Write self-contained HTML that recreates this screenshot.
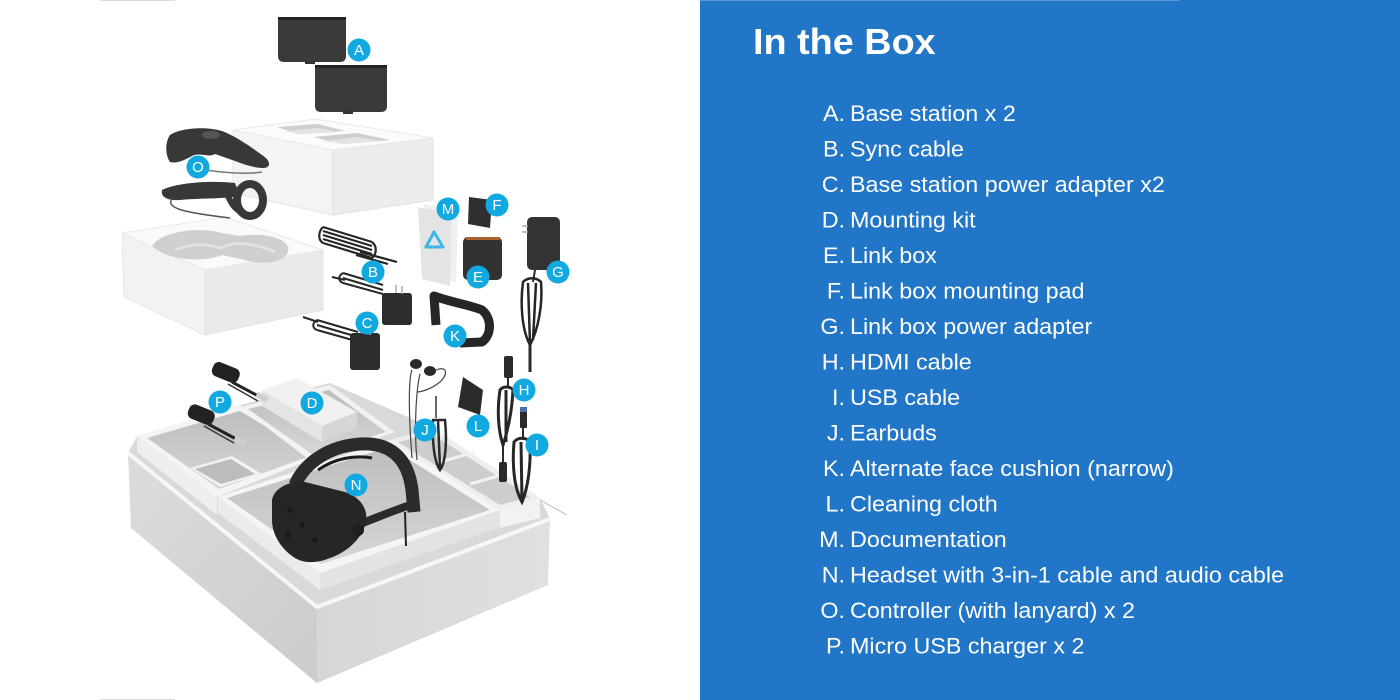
<!DOCTYPE html>
<html><head><meta charset="utf-8"><style>
html,body{margin:0;padding:0;background:#fff;}
svg{display:block;}
</style></head><body>
<svg width="1400" height="700" viewBox="0 0 1400 700" xmlns="http://www.w3.org/2000/svg">
<defs>
<linearGradient id="lf" x1="0" y1="0" x2="1" y2="1"><stop offset="0" stop-color="#dcdcdc"/><stop offset="1" stop-color="#cbcbcb"/></linearGradient>
<linearGradient id="rf" x1="0" y1="0" x2="1" y2="0"><stop offset="0" stop-color="#d6d6d6"/><stop offset="1" stop-color="#e0e0e0"/></linearGradient>
<linearGradient id="tin" x1="0" y1="0" x2="0" y2="1"><stop offset="0" stop-color="#bdbdbd"/><stop offset="1" stop-color="#d6d6d6"/></linearGradient>
</defs>
<rect x="0" y="0" width="700" height="700" fill="#ffffff"/>
<rect x="100" y="0" width="75" height="1" fill="#dddddd"/>
<rect x="100" y="699" width="75" height="1" fill="#dddddd"/>

<!-- ===== Bottom big box ===== -->
<polygon points="128,453 317,607 317,683 131,528" fill="url(#lf)"/>
<polygon points="317,607 550,519 548,585 317,683" fill="url(#rf)"/>
<polygon points="128,453 137,436 240,405 330,383 433,428 540,498 550,519 317,607" fill="#d9d9d9"/>
<polyline points="128,453 317,607 550,519" fill="none" stroke="#f7f7f7" stroke-width="4"/>
<!-- P tray -->
<polygon points="137,436 217,497 217,515 137,452" fill="#eeeeee"/>
<polygon points="137,436 240,405 322,455 217,497" fill="#f4f4f4"/>
<polygon points="147,438 240,411 313,455 219,489" fill="url(#tin)"/>
<polygon points="190,468 232,456 262,474 220,487" fill="#f2f2f2"/>
<polygon points="195,469 231,459 255,474 221,484" fill="#bcbcbc"/>
<!-- D tray -->
<polygon points="240,407 330,385 395,432 312,462" fill="#f2f2f2"/>
<polygon points="248,409 329,390 386,432 313,455" fill="url(#tin)"/>
<!-- right tray -->
<polygon points="390,440 433,428 540,498 500,510" fill="#eeeeee"/>
<polygon points="398,442 432,434 530,497 500,505" fill="#cdcdcd"/>
<line x1="440" y1="462" x2="475" y2="452" stroke="#f2f2f2" stroke-width="3"/>
<line x1="470" y1="484" x2="505" y2="474" stroke="#f2f2f2" stroke-width="3"/>
<polygon points="500,510 540,498 540,518 500,528" fill="#f2f2f2"/>
<line x1="540" y1="500" x2="567" y2="515" stroke="#bbbbbb" stroke-width="1"/>
<!-- N tray -->
<polygon points="218,497 320,573 320,590 218,513" fill="#ebebeb"/>
<polygon points="320,573 500,510 500,527 320,590" fill="#e3e3e3"/>
<polygon points="218,497 390,440 500,510 320,573" fill="#f5f5f5"/>
<polygon points="227,498 389,447 490,510 321,564" fill="url(#tin)"/>

<!-- D box -->
<polygon points="262,390 322,426 322,442 262,406" fill="#e4e4e4"/>
<polygon points="322,426 357,412 357,428 322,442" fill="#d6d6d6"/>
<polygon points="262,390 297,378 357,412 322,426" fill="#f1f1f1"/>

<!-- P chargers -->
<rect x="212" y="365" width="28" height="15" rx="6" fill="#222" transform="rotate(22 226 372)"/>
<path d="M232,382 L262,398" stroke="#222" stroke-width="3" fill="none"/>
<path d="M228,384 L258,401" stroke="#333" stroke-width="1.5" fill="none"/>
<rect x="256" y="394" width="12" height="6" fill="#cfcfcf" transform="rotate(25 262 397)"/>
<rect x="188" y="407" width="27" height="15" rx="6" fill="#222" transform="rotate(22 201 414)"/>
<path d="M208,424 L238,440" stroke="#222" stroke-width="3" fill="none"/>
<path d="M204,426 L234,443" stroke="#333" stroke-width="1.5" fill="none"/>
<rect x="234" y="438" width="12" height="6" fill="#cfcfcf" transform="rotate(25 240 441)"/>

<!-- Headset -->
<path d="M295,485 C305,462 330,446 360,444 C390,442 408,458 412,490 L414,512" stroke="#2b2b2b" stroke-width="13" fill="none"/>
<path d="M318,470 C335,458 355,455 372,458" stroke="#1c1c1c" stroke-width="3" fill="none"/>
<path d="M350,528 C370,520 390,512 410,505" stroke="#2b2b2b" stroke-width="8" fill="none"/>
<path d="M405,512 L406,546" stroke="#222" stroke-width="2" fill="none"/>
<path d="M272,500 C274,488 290,480 305,482 L345,492 C362,498 368,510 366,522 C362,540 345,553 330,558 C318,563 305,564 295,558 C282,550 272,535 272,520 Z" fill="#262626"/>
<circle cx="290" cy="510" r="3" fill="#1a1a1a"/><circle cx="302" cy="525" r="3" fill="#1a1a1a"/><circle cx="288" cy="535" r="3" fill="#1a1a1a"/><circle cx="315" cy="540" r="3" fill="#1a1a1a"/>
<circle cx="358" cy="530" r="6" fill="#1e1e1e"/>

<!-- J earbuds -->
<ellipse cx="416" cy="364" rx="6" ry="5" fill="#2a2a2a"/>
<ellipse cx="430" cy="371" rx="6" ry="5" fill="#2a2a2a"/>
<path d="M412,370 C408,380 409,420 412,458 M420,374 C416,390 414,430 417,460 M436,370 C445,366 450,372 440,382 C430,390 420,392 417,392" stroke="#444" stroke-width="1.2" fill="none"/>
<path d="M436,396 L436,418" stroke="#333" stroke-width="1.5"/>
<path d="M433,420 C432,440 434,462 440,470 C446,462 447,440 445,420 Z M438,420 L440,468" stroke="#2a2a2a" stroke-width="2.5" fill="none"/>
<!-- L cloth -->
<polygon points="463,377 483,390 480,415 458,407" fill="#2b2b2b"/>
<!-- H cable -->
<rect x="504" y="356" width="9" height="22" rx="2" fill="#2a2a2a"/>
<path d="M508,378 L508,388" stroke="#2a2a2a" stroke-width="2"/>
<path d="M500,390 C497,410 498,430 503,445 C508,430 512,410 513,390 C510,386 503,386 500,390 Z M506,390 L506,442" stroke="#262626" stroke-width="3" fill="none"/>
<path d="M503,445 L503,463" stroke="#2a2a2a" stroke-width="2"/>
<rect x="499" y="462" width="8" height="20" rx="2" fill="#2a2a2a"/>
<!-- I cable -->
<rect x="520" y="410" width="7" height="18" rx="1" fill="#2a2a2a"/>
<rect x="520" y="407" width="7" height="5" fill="#4d6fa8"/>
<path d="M523,428 L523,440" stroke="#2a2a2a" stroke-width="2"/>
<path d="M514,442 C512,465 514,488 522,502 C528,488 531,465 530,442 C526,437 518,437 514,442 Z M521,442 L522,500" stroke="#262626" stroke-width="3" fill="none"/>

<!-- ===== Upper items ===== -->
<!-- Base stations -->
<path d="M278,17 L346,17 L346,56 Q346,62 340,62 L284,62 Q278,62 278,56 Z" fill="#3a3a3a"/>
<rect x="278" y="17" width="68" height="3" fill="#222"/>
<rect x="305" y="61" width="10" height="3" fill="#333"/>
<path d="M315,65 L387,65 L387,106 Q387,112 381,112 L321,112 Q315,112 315,106 Z" fill="#3a3a3a"/>
<rect x="315" y="65" width="72" height="3" fill="#222"/>
<rect x="343" y="111" width="10" height="3" fill="#333"/>

<!-- Upper white box -->
<polygon points="233,130 333,150 333,215 233,193" fill="#f4f4f4" stroke="#e6e6e6" stroke-width="1"/>
<polygon points="333,150 433,138 433,200 333,215" fill="#ececec" stroke="#e2e2e2" stroke-width="1"/>
<polygon points="233,130 315,119 433,138 333,150" fill="#fbfbfb" stroke="#e8e8e8" stroke-width="1"/>
<polygon points="277,127 318,124 345,131 298,134" fill="#cfcfcf"/>
<polygon points="285,131 318,128 338,132 300,134" fill="#e3e3e3"/>
<polygon points="313,137 357,133 390,140 343,144" fill="#cfcfcf"/>
<polygon points="322,141 357,137 382,141 345,144" fill="#e3e3e3"/>

<!-- Lower-left white box -->
<polygon points="122,233 205,270 205,335 124,297" fill="#f2f2f2" stroke="#e6e6e6" stroke-width="1"/>
<polygon points="205,270 323,250 323,310 205,335" fill="#eaeaea" stroke="#e2e2e2" stroke-width="1"/>
<polygon points="122,233 225,217 323,250 205,270" fill="#fafafa" stroke="#e8e8e8" stroke-width="1"/>
<path d="M152,246 C160,232 198,226 222,233 L240,236 C262,232 292,238 288,252 C285,262 262,266 245,260 L222,255 C205,262 170,262 152,246 Z" fill="#cfcfcf"/>
<path d="M175,250 C190,244 205,243 220,248 L232,244 C245,242 262,246 275,252" stroke="#e2e2e2" stroke-width="3" fill="none"/>

<!-- Controller 1 -->
<path d="M170,135 C180,128 205,126 222,131 C235,136 250,146 262,155 C270,160 272,167 264,168 C255,168 245,165 235,161 L215,154 C208,158 200,152 192,156 C185,160 176,164 170,162 C165,155 165,142 170,135 Z" fill="#383838"/>
<ellipse cx="211" cy="135" rx="9" ry="4" fill="#555"/>
<path d="M205,170 C220,172 245,175 262,172" stroke="#777" stroke-width="1.5" fill="none"/>
<!-- Controller 2 -->
<path d="M162,190 C175,183 210,180 235,183 L240,196 C225,199 200,198 180,200 C170,201 160,198 162,190 Z" fill="#383838"/>
<ellipse cx="250" cy="200" rx="13" ry="16" stroke="#383838" stroke-width="8" fill="none"/>
<path d="M228,196 C232,205 236,210 242,212" stroke="#383838" stroke-width="6" fill="none"/>
<path d="M172,198 C166,208 180,212 230,218" stroke="#555" stroke-width="1.5" fill="none"/>

<!-- B sync cable coil -->
<g stroke="#262626" stroke-width="2.2" fill="none">
<path d="M323,227 L372,242 M323,231 L372,246 M323,235 L372,250 M323,239 L372,254 M323,243 L372,258"/>
<path d="M323,227 C318,232 318,240 323,243 M372,242 C377,246 377,254 372,258"/>
<path d="M360,252 L397,262 M356,255 L388,264"/>
</g>
<!-- B-side adapter -->
<g stroke="#262626" stroke-width="2" fill="none">
<path d="M332,277 L345,280 M343,273 L383,285 M343,278 L383,290 M343,283 L383,294 M343,273 C338,276 338,281 343,283"/>
</g>
<rect x="382" y="293" width="30" height="32" rx="3" fill="#2c2c2c"/>
<path d="M396,285 L396,293 M402,286 L402,294" stroke="#aaa" stroke-width="1.5"/>
<!-- C adapter -->
<g stroke="#262626" stroke-width="2" fill="none">
<path d="M303,317 L318,322 M317,320 L358,332 M317,325 L358,337 M317,330 L356,341 M317,320 C312,323 312,328 317,330"/>
</g>
<rect x="350" y="333" width="30" height="37" rx="3" fill="#2c2c2c"/>
<path d="M364,326 L364,334 M370,327 L370,335" stroke="#aaa" stroke-width="1.5"/>

<!-- M documentation -->
<polygon points="424,204 458,211 456,282 428,277" fill="#f0f0f0"/>
<polygon points="418,207 452,214 450,286 422,279" fill="#e4e4e4"/>
<path d="M434,232 L443,247 L426,247 Z" stroke="#3bb6e6" stroke-width="3" stroke-linejoin="round" fill="none"/>
<!-- F pad -->
<polygon points="469,197 492,200 490,228 468,224" fill="#2f2f2f"/>
<!-- E link box -->
<rect x="463" y="237" width="39" height="43" rx="5" fill="#323232"/>
<rect x="466" y="237" width="34" height="3" fill="#a8642a"/>
<!-- G adapter -->
<rect x="527" y="217" width="33" height="53" rx="5" fill="#333"/>
<path d="M522,226 L528,226 M522,232 L528,232" stroke="#aaa" stroke-width="1.5"/>
<path d="M535,270 L533,282" stroke="#2a2a2a" stroke-width="2"/>
<path d="M523,282 C520,305 522,330 530,345 C538,330 543,305 541,282 C536,277 528,277 523,282 Z M528,283 L530,343 M536,283 L533,340" stroke="#262626" stroke-width="2.5" fill="none"/>
<path d="M530,345 L530,372" stroke="#2a2a2a" stroke-width="3"/>
<!-- K cushion -->
<path d="M436,325 L434,296 C450,302 470,305 482,310 C492,318 492,335 482,342 L460,343" stroke="#262626" stroke-width="9" fill="none" stroke-linejoin="round"/>

<!-- Cyan labels -->
<g fill="#12a9e0">
<circle cx="359" cy="50" r="11.5"/><circle cx="198" cy="167" r="11.5"/><circle cx="448" cy="209" r="11.5"/>
<circle cx="497" cy="205" r="11.5"/><circle cx="373" cy="272" r="11.5"/><circle cx="478" cy="277" r="11.5"/>
<circle cx="558" cy="272" r="11.5"/><circle cx="367" cy="323" r="11.5"/><circle cx="455" cy="336" r="11.5"/>
<circle cx="220" cy="402" r="11.5"/><circle cx="312" cy="403" r="11.5"/><circle cx="524" cy="390" r="11.5"/>
<circle cx="425" cy="430" r="11.5"/><circle cx="478" cy="426" r="11.5"/><circle cx="537" cy="445" r="11.5"/>
<circle cx="356" cy="485" r="11.5"/>
</g>
<g fill="#ffffff" font-family="'Liberation Sans', Arial, sans-serif" font-size="15" text-anchor="middle">
<text x="359" y="55">A</text><text x="198" y="172">O</text><text x="448" y="214">M</text>
<text x="497" y="210">F</text><text x="373" y="277">B</text><text x="478" y="282">E</text>
<text x="558" y="277">G</text><text x="367" y="328">C</text><text x="455" y="341">K</text>
<text x="220" y="407">P</text><text x="312" y="408">D</text><text x="524" y="395">H</text>
<text x="425" y="435">J</text><text x="478" y="431">L</text><text x="537" y="450">I</text>
<text x="356" y="490">N</text>
</g>

<!-- ===== Right blue panel ===== -->
<rect x="700" y="0" width="700" height="700" fill="#2176c8"/>
<rect x="700" y="0" width="480" height="1" fill="#5a96d6"/>
<g transform="translate(753 0) scale(1.05 1)">
<text x="0" y="54" fill="#ffffff" font-family="'Liberation Sans', Arial, sans-serif" font-size="36" font-weight="bold">In the Box</text>
</g>
<g transform="translate(845 0) scale(1.06 1)" fill="#ffffff" font-family="'Liberation Sans', Arial, sans-serif" font-size="22" text-anchor="end">
<text x="0" y="121">A.</text><text x="0" y="156.5">B.</text><text x="0" y="192">C.</text><text x="0" y="227.5">D.</text>
<text x="0" y="263">E.</text><text x="0" y="298.5">F.</text><text x="0" y="334">G.</text><text x="0" y="369.5">H.</text>
<text x="0" y="405">I.</text><text x="0" y="440.5">J.</text><text x="0" y="476">K.</text><text x="0" y="511.5">L.</text>
<text x="0" y="547">M.</text><text x="0" y="582.5">N.</text><text x="0" y="618">O.</text><text x="0" y="653.5">P.</text>
</g>
<g transform="translate(850 0) scale(1.06 1)" fill="#ffffff" font-family="'Liberation Sans', Arial, sans-serif" font-size="22">
<text x="0" y="121">Base station x 2</text>
<text x="0" y="156.5">Sync cable</text>
<text x="0" y="192">Base station power adapter x2</text>
<text x="0" y="227.5">Mounting kit</text>
<text x="0" y="263">Link box</text>
<text x="0" y="298.5">Link box mounting pad</text>
<text x="0" y="334">Link box power adapter</text>
<text x="0" y="369.5">HDMI cable</text>
<text x="0" y="405">USB cable</text>
<text x="0" y="440.5">Earbuds</text>
<text x="0" y="476">Alternate face cushion (narrow)</text>
<text x="0" y="511.5">Cleaning cloth</text>
<text x="0" y="547">Documentation</text>
<text x="0" y="582.5">Headset with 3-in-1 cable and audio cable</text>
<text x="0" y="618">Controller (with lanyard) x 2</text>
<text x="0" y="653.5">Micro USB charger x 2</text>
</g>
</svg>
</body></html>
